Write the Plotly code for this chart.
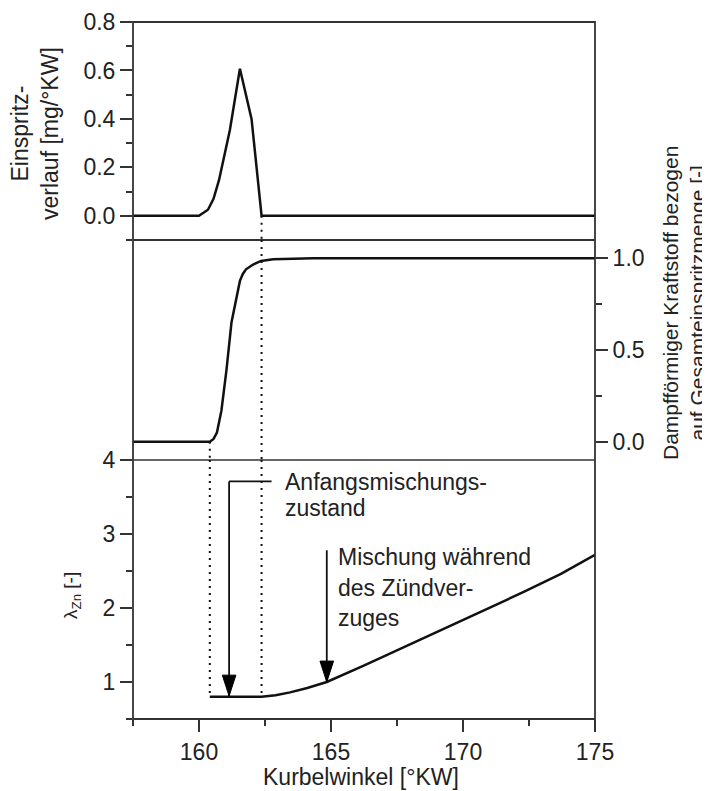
import plotly.graph_objects as go

# ---------------- data ----------------
# top panel: injection rate [mg/°KW]
inj_x = [157.5, 160.0, 160.34, 160.55, 160.76, 161.17, 161.55, 161.99, 162.37, 175.0]
inj_y = [0.0, 0.0, 0.025, 0.07, 0.148, 0.354, 0.607, 0.40, 0.0, 0.0]

# middle panel: vaporised fuel fraction [-]
vap_x = [157.5, 160.41, 160.55, 160.68, 160.85, 161.04, 161.23, 161.42, 161.55, 161.66, 161.78,
         162.05, 162.35, 162.81, 164.33, 175.0]
vap_y = [0.0, 0.0, 0.015, 0.05, 0.17, 0.39, 0.65, 0.79, 0.877, 0.915, 0.94,
         0.966, 0.986, 0.995, 1.0, 1.0]

# bottom panel: lambda_Zn [-]
lam_x = [160.41, 162.37, 162.9, 163.45, 164.1, 164.84, 166.24, 167.76, 169.28, 170.8, 172.32, 173.71, 175.0]
lam_y = [0.8, 0.8, 0.82, 0.86, 0.92, 1.0, 1.22, 1.47, 1.72, 1.97, 2.22, 2.46, 2.72]

# axes
x_range = [157.5, 175]
x_major = [160, 165, 170, 175]
x_minor = [157.5, 162.5, 167.5, 172.5]
y1_range = [-0.1, 0.8]
y1_major = [0.0, 0.2, 0.4, 0.6, 0.8]
y1_minor = [-0.1, 0.1, 0.3, 0.5, 0.7]
y2_range = [-0.1, 1.1]
y2_major = [0.0, 0.5, 1.0]
y2_minor = [0.25, 0.75]
y3_range = [0.5, 4]
y3_major = [1, 2, 3, 4]
y3_minor = [0.5, 1.5, 2.5, 3.5]

# markers (dotted lines: start of evaporation / end of injection)
dot_start = 160.41
dot_end = 162.37

# annotation geometry (data coords of bottom panel)
anf_arrow_x = 161.14
anf_leader_x1 = 162.75
anf_top_y = 3.71
anf_tip_y = 0.81
anf_text_x = 163.18
anf_lines = ["Anfangsmischungs-", "zustand"]
anf_line_y = [3.70, 3.35]

mis_arrow_x = 164.84
mis_top_y = 2.78
mis_tip_y = 1.0
mis_text_x = 165.18
mis_lines = ["Mischung während", "des Zündver-", "zuges"]
mis_line_y = [2.69, 2.27, 1.87]

FONT = "Liberation Sans, Arial, Helvetica, sans-serif"
TXT = "#222222"
AX = "#333333"
LINE = "#111111"

# panel domains (paper, from bottom)
dom3 = [0.0, 0.37159]
dom2 = [0.37159, 0.68723]
dom1 = [0.68723, 1.0]

fig = go.Figure()
fig.add_trace(go.Scatter(x=inj_x, y=inj_y, mode="lines", xaxis="x", yaxis="y",
                         line=dict(color=LINE, width=2.5), showlegend=False))
fig.add_trace(go.Scatter(x=vap_x, y=vap_y, mode="lines", xaxis="x", yaxis="y2",
                         line=dict(color=LINE, width=2.5), showlegend=False))
fig.add_trace(go.Scatter(x=lam_x, y=lam_y, mode="lines", xaxis="x", yaxis="y3",
                         line=dict(color=LINE, width=2.5), showlegend=False))

# annotation arrows: shaft line + arrowhead marker whose tip sits on the data point
for ax_, top, tip in [(anf_arrow_x, anf_top_y, anf_tip_y), (mis_arrow_x, mis_top_y, mis_tip_y)]:
    fig.add_trace(go.Scatter(x=[ax_, ax_], y=[top, tip], mode="lines",
                             xaxis="x", yaxis="y3", showlegend=False, hoverinfo="skip",
                             line=dict(color=LINE, width=1.8)))
    fig.add_trace(go.Scatter(x=[ax_], y=[tip], mode="markers",
                             xaxis="x", yaxis="y3", showlegend=False, hoverinfo="skip",
                             opacity=1,
                             marker=dict(symbol="arrow", size=22, angle=180, color="#000000",
                                         opacity=1, line=dict(width=1, color="#000000"))))

tickfont = dict(family=FONT, size=23, color=TXT)
common = dict(showgrid=False, zeroline=False, showline=False, ticks="outside",
              ticklen=12, tickwidth=1.5, tickcolor=AX, tickfont=tickfont,
              tickmode="array", fixedrange=True, automargin=False)


def minor(vals):
    return dict(tickmode="array", tickvals=vals, ticks="outside", ticklen=6,
                tickwidth=1.5, tickcolor=AX, showgrid=False)


# the page body has an 8px margin, so the figure is 8px smaller than the window
fig.update_layout(
    width=702, height=783,
    margin=dict(l=125, r=115, t=14, b=72),
    paper_bgcolor="white", plot_bgcolor="white",
    font=dict(family=FONT, color=TXT),
    showlegend=False,
    xaxis=dict(range=x_range, anchor="y3", domain=[0, 1], tickvals=x_major,
               ticktext=[str(v) for v in x_major], minor=minor(x_minor), **common),
    yaxis=dict(range=y1_range, domain=dom1, anchor="x", tickvals=y1_major,
               ticktext=[f"{v:.1f}" for v in y1_major], minor=minor(y1_minor), **common),
    yaxis2=dict(range=y2_range, domain=dom2, anchor="x", side="right", tickvals=y2_major,
                ticktext=[f"{v:.1f}" for v in y2_major], minor=minor(y2_minor), **common),
    yaxis3=dict(range=y3_range, domain=dom3, anchor="x", tickvals=y3_major,
                ticktext=[str(v) for v in y3_major], minor=minor(y3_minor), **common),
)

shapes = []
# frame and separators
shapes.append(dict(type="rect", xref="paper", yref="paper", x0=0, x1=1, y0=0, y1=1,
                   line=dict(color=AX, width=1.8)))
shapes.append(dict(type="line", xref="paper", yref="paper", x0=0, x1=1,
                   y0=dom2[1], y1=dom2[1], line=dict(color=AX, width=2)))
shapes.append(dict(type="line", xref="paper", yref="paper", x0=0, x1=1,
                   y0=dom3[1], y1=dom3[1], line=dict(color=AX, width=1.3)))

dot = dict(color=LINE, width=2, dash="2px,5px")
# end-of-injection dotted line through all panels
shapes.append(dict(type="line", xref="x", yref="y", x0=dot_end, x1=dot_end,
                   y0=y1_major[0], y1=y1_range[0], line=dot))
shapes.append(dict(type="line", xref="x", yref="y2", x0=dot_end, x1=dot_end,
                   y0=y2_range[1], y1=y2_range[0], line=dot))
shapes.append(dict(type="line", xref="x", yref="y3", x0=dot_end, x1=dot_end,
                   y0=y3_range[1], y1=lam_y[0], line=dot))
# start-of-evaporation dotted line
shapes.append(dict(type="line", xref="x", yref="y2", x0=dot_start, x1=dot_start,
                   y0=vap_y[0], y1=y2_range[0], line=dot))
shapes.append(dict(type="line", xref="x", yref="y3", x0=dot_start, x1=dot_start,
                   y0=y3_range[1], y1=lam_y[0], line=dot))
# leader line of "Anfangsmischungszustand"
shapes.append(dict(type="line", xref="x", yref="y3", x0=anf_arrow_x, x1=anf_leader_x1,
                   y0=anf_top_y, y1=anf_top_y, line=dict(color=LINE, width=1.8)))
fig.update_layout(shapes=shapes)

ann = []
ann_font = dict(family=FONT, size=23, color=TXT)
for t, yy in zip(anf_lines, anf_line_y):
    ann.append(dict(x=anf_text_x, y=yy, xref="x", yref="y3", text=t, showarrow=False,
                    xanchor="left", yanchor="middle", font=ann_font))
for t, yy in zip(mis_lines, mis_line_y):
    ann.append(dict(x=mis_text_x, y=yy, xref="x", yref="y3", text=t, showarrow=False,
                    xanchor="left", yanchor="middle", font=ann_font))

# axis titles
ann.append(dict(x=0.4935, y=-0.0832, xref="paper", yref="paper", text="Kurbelwinkel [°KW]",
                showarrow=False, xanchor="center", yanchor="middle", font=ann_font))
ann.append(dict(x=-0.2121, y=0.8393, xref="paper", yref="paper",
                text="Einspritz-<br>verlauf [mg/°KW]", textangle=-90,
                showarrow=False, xanchor="center", yanchor="middle", font=ann_font))
ann.append(dict(x=1.1926, y=0.5968, xref="paper", yref="paper",
                text="Dampfförmiger Kraftstoff bezogen<br>auf Gesamteinspritzmenge [-]",
                textangle=-90, showarrow=False, xanchor="center", yanchor="middle",
                font=dict(family=FONT, size=21, color=TXT)))
ann.append(dict(x=-0.132, y=0.1765, xref="paper", yref="paper",
                text="λ<sub>Zn</sub> [-]", textangle=-90, showarrow=False,
                xanchor="center", yanchor="middle",
                font=dict(family=FONT, size=19, color=TXT)))
fig.update_layout(annotations=ann)

fig.write_html("out.html")
